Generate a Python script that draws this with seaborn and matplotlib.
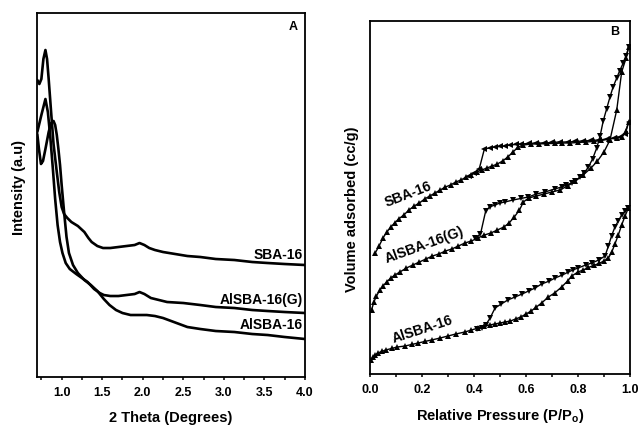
import numpy as np
import pandas as pd
import matplotlib
matplotlib.use("Agg")
import matplotlib.pyplot as plt
import seaborn as sns
from matplotlib.ticker import MultipleLocator, FormatStrFormatter

# --- Panel A: low-angle XRD (2 theta, intensity in arbitrary units) ---
sba_x = [0.70, 0.725, 0.75, 0.775, 0.80, 0.82, 0.84, 0.87, 0.90, 0.94, 0.97, 1.00, 1.03,
         1.07, 1.12, 1.20, 1.28, 1.33, 1.37, 1.44, 1.51, 1.60, 1.70, 1.80, 1.90, 1.96,
         2.02, 2.08, 2.15, 2.25, 2.40, 2.55, 2.71, 2.90, 3.13, 3.35, 3.54, 3.75, 4.00]
sba_y = [297, 293, 298, 318, 327, 318, 298, 265, 233, 205, 185, 170, 163,
         159, 155, 151, 145, 139, 135, 131, 129, 129, 130, 131, 132, 134,
         132, 129, 127, 125, 123, 121, 120, 118, 117, 115, 114, 113, 112]

alg_x = [0.70, 0.75, 0.80, 0.83, 0.86, 0.89, 0.92, 0.95, 0.98, 1.01, 1.05, 1.10, 1.18,
         1.25, 1.32, 1.40, 1.47, 1.52, 1.60, 1.70, 1.80, 1.90, 1.96, 2.02, 2.10, 2.20,
         2.30, 2.50, 2.71, 2.90, 3.13, 3.35, 3.54, 3.75, 4.00]
alg_y = [245, 262, 278, 265, 240, 210, 178, 152, 135, 124, 114, 108, 103,
         99, 95, 88, 84, 82, 81, 81, 82, 83, 85, 83, 79, 77,
         75, 74, 72, 70, 69, 67, 66, 65, 64]

al_x = [0.70, 0.72, 0.745, 0.77, 0.80, 0.84, 0.87, 0.90, 0.92, 0.94, 0.96, 0.98, 1.00,
        1.03, 1.06, 1.09, 1.14, 1.20, 1.28, 1.36, 1.44, 1.52, 1.59, 1.67, 1.75, 1.85,
        1.95, 2.05, 2.15, 2.25, 2.35, 2.45, 2.55, 2.71, 2.90, 3.13, 3.35, 3.54, 3.75, 4.00]
al_y = [243, 228, 213, 216, 228, 245, 254, 256, 252, 242, 228, 212, 192,
        165, 140, 124, 112, 104, 97, 92, 86, 78, 72, 67, 64, 62,
        62, 62, 61, 59, 56, 53, 50, 48, 46, 45, 43, 42, 40, 38]

# --- Panel B: N2 isotherms (relative pressure, volume adsorbed, arbitrary offset) ---
sba_ads_p = [0.02, 0.035, 0.05, 0.065, 0.08, 0.095, 0.11, 0.13, 0.15, 0.17, 0.19, 0.21,
             0.23, 0.25, 0.27, 0.29, 0.31, 0.33, 0.35, 0.37, 0.39, 0.41, 0.43, 0.45,
             0.47, 0.49, 0.51, 0.53, 0.55, 0.57, 0.59, 0.62, 0.65, 0.68, 0.71, 0.74,
             0.77, 0.80, 0.83, 0.86, 0.89, 0.92, 0.95, 0.97, 0.985, 0.995]
sba_ads_v = [121, 128, 136, 142, 147, 151, 155, 159, 164, 168, 171, 175,
             178, 181, 184, 187, 189, 192, 194, 197, 199, 202, 204, 206,
             208, 210, 213, 217, 222, 227, 229, 230, 230, 230.5, 230.5, 231,
             231, 231.5, 232, 232.5, 233.5, 235, 236, 237, 243, 252]
sba_des_p = [0.995, 0.98, 0.96, 0.94, 0.91, 0.88, 0.85, 0.82, 0.79, 0.76, 0.73, 0.70,
             0.67, 0.64, 0.61, 0.58, 0.56, 0.54, 0.52, 0.50, 0.48, 0.46, 0.44, 0.42,
             0.40, 0.38]
sba_des_v = [252, 240, 237, 236, 235, 234, 233.5, 233, 232.5, 232, 232, 231.5,
             231, 231, 230.5, 230, 229.5, 229, 228, 227.5, 227, 226, 225, 205,
             201, 198]

alg_ads_p = [0.006, 0.015, 0.025, 0.038, 0.05, 0.064, 0.08, 0.096, 0.115, 0.14, 0.165,
             0.19, 0.215, 0.24, 0.265, 0.29, 0.315, 0.34, 0.365, 0.39, 0.415, 0.44,
             0.465, 0.49, 0.515, 0.535, 0.555, 0.575, 0.59, 0.61, 0.64, 0.67, 0.70,
             0.73, 0.76, 0.79, 0.82, 0.85, 0.875, 0.90, 0.923, 0.949, 0.968, 0.985, 0.995]
alg_ads_v = [64, 72, 78, 84, 88, 92, 96, 99, 102, 106, 109,
             112, 115, 118, 120, 123, 125, 128, 131, 133, 136, 139,
             141, 144, 147, 151, 157, 164, 172, 176, 178, 180, 182,
             184, 188, 193, 199, 206, 213, 222, 234, 264, 302, 316, 327]
alg_des_p = [0.995, 0.985, 0.974, 0.96, 0.949, 0.935, 0.923, 0.91, 0.897, 0.885, 0.872,
             0.856, 0.84, 0.824, 0.808, 0.79, 0.776, 0.755, 0.737, 0.71, 0.673, 0.64,
             0.609, 0.58, 0.55, 0.519, 0.50, 0.48, 0.46, 0.445, 0.425, 0.405]
alg_des_v = [327, 318, 311, 303, 296, 287, 277, 265, 253, 238, 226,
             215, 207, 201, 197, 193, 191, 189, 187, 185, 182, 180,
             177, 175.5, 174, 172, 171, 169, 167, 163, 140, 136]

al_ads_p = [0.004, 0.012, 0.02, 0.03, 0.045, 0.06, 0.083, 0.105, 0.135, 0.16, 0.186,
            0.21, 0.237, 0.27, 0.30, 0.33, 0.365, 0.39, 0.417, 0.44, 0.46, 0.48, 0.50,
            0.52, 0.54, 0.56, 0.58, 0.60, 0.62, 0.64, 0.66, 0.686, 0.71, 0.737, 0.76,
            0.776, 0.80, 0.82, 0.84, 0.86, 0.88, 0.90, 0.917, 0.93, 0.942, 0.955,
            0.968, 0.981, 0.994]
al_ads_v = [14, 17, 19, 21, 22.5, 24, 25.5, 27, 28, 29.5, 31,
            32.5, 34, 36, 38, 40, 42, 44, 46, 48, 49, 50, 51,
            52, 53, 55, 57, 60, 63, 67, 71, 77, 81, 87, 93,
            98, 102, 104, 106.5, 108.5, 110.5, 113, 116, 122, 130, 139,
            149, 158, 166]
al_des_p = [0.994, 0.981, 0.968, 0.955, 0.942, 0.929, 0.917, 0.904, 0.88, 0.853, 0.83,
            0.80, 0.78, 0.763, 0.74, 0.712, 0.69, 0.66, 0.635, 0.61, 0.585, 0.558,
            0.53, 0.505, 0.481, 0.462, 0.445, 0.43, 0.41]
al_des_v = [166, 163, 159, 153, 147, 138, 128, 118, 114, 111, 109,
            106, 104, 102, 99, 96, 93, 90, 86, 83, 80, 77,
            74, 70, 66, 56, 49, 46, 45]

sns.set_theme(style="ticks")
plt.rcParams['font.family'] = ['Liberation Sans', 'DejaVu Sans']
plt.rcParams['font.weight'] = 'bold'
plt.rcParams['axes.labelweight'] = 'bold'
plt.rcParams['text.color'] = 'black'
plt.rcParams['axes.labelcolor'] = 'black'
plt.rcParams['xtick.color'] = 'black'
plt.rcParams['xtick.labelcolor'] = 'black'

fig = plt.figure(figsize=(6.39, 4.25), dpi=100)
ax1 = fig.add_axes([0.0584, 0.1129, 0.4189, 0.8565])
ax2 = fig.add_axes([0.5790, 0.1200, 0.4069, 0.8306])

# Panel A
for xs, ys in [(sba_x, sba_y), (alg_x, alg_y), (al_x, al_y)]:
    sns.lineplot(x=xs, y=ys, ax=ax1, color='black', lw=1.9, sort=False, estimator=None)
ax1.set_xlim(0.7, 4.0)
ax1.set_ylim(0, 364)
ax1.xaxis.set_major_locator(MultipleLocator(0.5))
ax1.xaxis.set_minor_locator(MultipleLocator(0.25))
ax1.xaxis.set_major_formatter(FormatStrFormatter('%.1f'))
ax1.set_xlabel('2 Theta (Degrees)', fontsize=10.5)
ax1.set_ylabel('Intensity (a.u)', fontsize=10.5)
ax1.text(3.97, 122, 'SBA-16', ha='right', va='center', fontsize=10, fontweight='bold')
ax1.text(3.97, 77, 'AlSBA-16(G)', ha='right', va='center', fontsize=10, fontweight='bold')
ax1.text(3.97, 52, 'AlSBA-16', ha='right', va='center', fontsize=10, fontweight='bold')
ax1.text(3.85, 350, 'A', ha='center', va='center', fontsize=9, fontweight='bold')

# Panel B
branches = [
    (sba_ads_p, sba_ads_v, '^'), (sba_des_p, sba_des_v, '<'),
    (alg_ads_p, alg_ads_v, '^'), (alg_des_p, alg_des_v, 'v'),
    (al_ads_p, al_ads_v, '^'), (al_des_p, al_des_v, 'v'),
]
for ps, vs, mk in branches:
    sns.lineplot(x=ps, y=vs, ax=ax2, color='black', lw=1.0, marker=mk, markersize=5,
                 markeredgewidth=0, sort=False, estimator=None)
ax2.set_xlim(0, 1.0)
ax2.set_ylim(0, 353)
ax2.xaxis.set_major_locator(MultipleLocator(0.2))
ax2.xaxis.set_minor_locator(MultipleLocator(0.1))
ax2.xaxis.set_major_formatter(FormatStrFormatter('%.1f'))
ax2.set_xlabel('Relative Pressure (P/P$_\\mathregular{o}$)', fontsize=10.5)
ax2.set_ylabel('Volume adsorbed (cc/g)', fontsize=10.5)
ax2.text(0.146, 180, 'SBA-16', ha='center', va='center', rotation=21, fontsize=10, fontweight='bold')
ax2.text(0.208, 129, 'AlSBA-16(G)', ha='center', va='center', rotation=20, fontsize=10, fontweight='bold')
ax2.text(0.20, 45, 'AlSBA-16', ha='center', va='center', rotation=18, fontsize=10, fontweight='bold')
ax2.text(0.942, 342, 'B', ha='center', va='center', fontsize=9, fontweight='bold')

for ax in (ax1, ax2):
    ax.set_yticks([])
    for s in ax.spines.values():
        s.set_visible(True)
        s.set_linewidth(1.3)
        s.set_color('black')
    ax.tick_params(axis='x', which='both', direction='out', length=2.5, width=1.1,
                   color='black', labelcolor='black', pad=4.5, labelsize=9)
    for lbl in ax.get_xticklabels():
        lbl.set_fontweight('bold')
    ax.xaxis.set_label_coords(0.5, -0.093)
    ax.yaxis.set_label_coords(-0.042, 0.52 if ax is ax1 else 0.467)

fig.savefig('out.png', dpi=100)
